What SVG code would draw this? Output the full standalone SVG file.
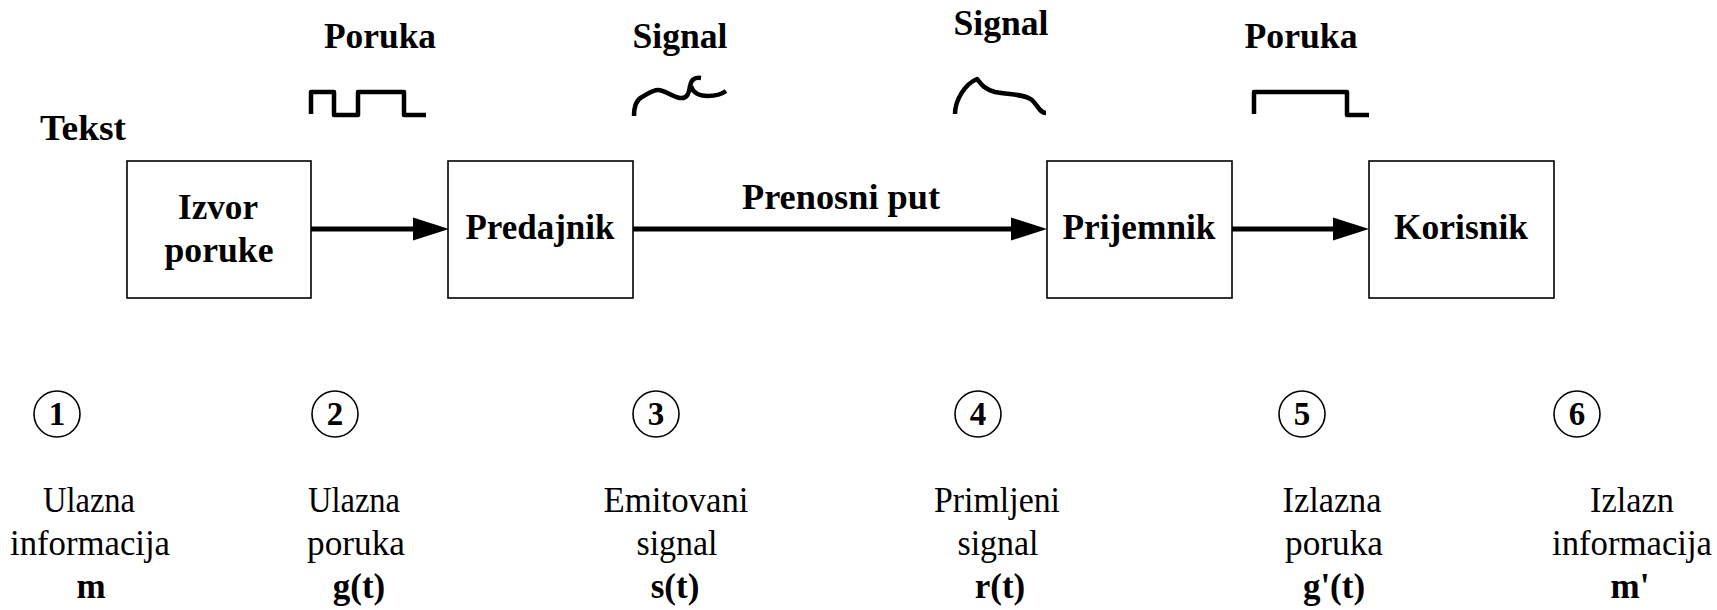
<svg xmlns="http://www.w3.org/2000/svg" width="1717" height="610" viewBox="0 0 1717 610" font-family="Liberation Serif, Times New Roman, serif">
  <style>
    .bg { fill: #ffffff; }
    .box { fill: #ffffff; stroke: #000000; stroke-width: 1.6; }
    text { fill: #000000; text-anchor: middle; }
    .lbl { font-weight: bold; font-size: 35px; }
    .cap { font-weight: normal; font-size: 35px; }
    .num { font-weight: bold; font-size: 33px; }
    .ring { fill: none; stroke: #000000; stroke-width: 1.6; }
    .wave { fill: none; stroke: #000000; stroke-width: 4.5; stroke-linejoin: round; }
    .conn { stroke: #000000; stroke-width: 5; fill: none; }
  </style>
  <defs>
    <marker id="head" markerUnits="userSpaceOnUse" markerWidth="36" markerHeight="24" refX="6" refY="12" orient="auto">
      <path d="M0,0.5 L36,12 L0,23.5 Z" fill="#000000"/>
    </marker>
  </defs>

  <rect class="bg" x="0" y="0" width="1717" height="610"/>

  <!-- section headings above the chain -->
  <g id="headings">
    <text class="lbl" x="380" y="48" textLength="112" lengthAdjust="spacingAndGlyphs">Poruka</text>
    <text class="lbl" x="680" y="48" textLength="95" lengthAdjust="spacingAndGlyphs">Signal</text>
    <text class="lbl" x="1001" y="35" textLength="95" lengthAdjust="spacingAndGlyphs">Signal</text>
    <text class="lbl" x="1301" y="48" textLength="113" lengthAdjust="spacingAndGlyphs">Poruka</text>
    <text class="lbl" x="83" y="140" font-size="36" textLength="86" lengthAdjust="spacingAndGlyphs">Tekst</text>
  </g>

  <!-- waveform sketches -->
  <g id="waveforms">
    <path class="wave" d="M311,114 V92 H334 V115 H358 V92 H404 V115 H426"/>
    <path class="wave" d="M634,116 C634,108 636,100 642,97 C648,94 652,90 658,90 C665,90 672,97 680,98 C688,99 689,92 690,86 C691,80 694,77 701,78 M691,86 C693,93 700,96 708,96 C716,96 722,94 726,91"/>
    <path class="wave" d="M955,114 C955,100 965,84 977,79 C981,84 984,89 995,92 C1010,95 1025,94 1032,100 C1038,106 1040,113 1046,113"/>
    <path class="wave" d="M1254,114 V92 H1347 V115 H1369"/>
  </g>

  <!-- connectors -->
  <g id="connectors">
    <line class="conn" x1="311" y1="229" x2="419" y2="229" marker-end="url(#head)"/>
    <line class="conn" x1="633" y1="229" x2="1017" y2="229" marker-end="url(#head)"/>
    <line class="conn" x1="1232" y1="229" x2="1339" y2="229" marker-end="url(#head)"/>
    <text class="lbl" x="841" y="209" textLength="198" lengthAdjust="spacingAndGlyphs">Prenosni put</text>
  </g>

  <!-- blocks -->
  <g id="izvor">
    <rect class="box" x="127" y="161" width="184" height="137"/>
    <text class="lbl" x="218" y="219" textLength="80" lengthAdjust="spacingAndGlyphs">Izvor</text>
    <text class="lbl" x="219" y="262" textLength="109" lengthAdjust="spacingAndGlyphs">poruke</text>
  </g>
  <g id="predajnik">
    <rect class="box" x="448" y="161" width="185" height="137"/>
    <text class="lbl" x="540" y="239" textLength="149" lengthAdjust="spacingAndGlyphs">Predajnik</text>
  </g>
  <g id="prijemnik">
    <rect class="box" x="1047" y="161" width="185" height="137"/>
    <text class="lbl" x="1139" y="239" textLength="153" lengthAdjust="spacingAndGlyphs">Prijemnik</text>
  </g>
  <g id="korisnik">
    <rect class="box" x="1369" y="161" width="185" height="137"/>
    <text class="lbl" x="1461" y="239" textLength="134" lengthAdjust="spacingAndGlyphs">Korisnik</text>
  </g>

  <!-- numbered observation points -->
  <g id="point-1">
    <circle class="ring" cx="57" cy="414" r="23"/>
    <text class="num" x="57" y="425">1</text>
    <text class="cap" x="89" y="512" textLength="92" lengthAdjust="spacingAndGlyphs">Ulazna</text>
    <text class="cap" x="90" y="555" textLength="160" lengthAdjust="spacingAndGlyphs">informacija</text>
    <text class="lbl" x="91" y="598">m</text>
  </g>
  <g id="point-2">
    <circle class="ring" cx="335" cy="414" r="23"/>
    <text class="num" x="335" y="425">2</text>
    <text class="cap" x="354" y="512" textLength="92" lengthAdjust="spacingAndGlyphs">Ulazna</text>
    <text class="cap" x="356" y="555" textLength="98" lengthAdjust="spacingAndGlyphs">poruka</text>
    <text class="lbl" x="359" y="598">g(t)</text>
  </g>
  <g id="point-3">
    <circle class="ring" cx="656" cy="414" r="23"/>
    <text class="num" x="656" y="425">3</text>
    <text class="cap" x="676" y="512" textLength="145" lengthAdjust="spacingAndGlyphs">Emitovani</text>
    <text class="cap" x="677" y="555" textLength="81" lengthAdjust="spacingAndGlyphs">signal</text>
    <text class="lbl" x="675" y="598">s(t)</text>
  </g>
  <g id="point-4">
    <circle class="ring" cx="978" cy="414" r="23"/>
    <text class="num" x="978" y="425">4</text>
    <text class="cap" x="997" y="512" textLength="126" lengthAdjust="spacingAndGlyphs">Primljeni</text>
    <text class="cap" x="998" y="555" textLength="81" lengthAdjust="spacingAndGlyphs">signal</text>
    <text class="lbl" x="1000" y="598">r(t)</text>
  </g>
  <g id="point-5">
    <circle class="ring" cx="1302" cy="414" r="23"/>
    <text class="num" x="1302" y="425">5</text>
    <text class="cap" x="1332" y="512" textLength="99" lengthAdjust="spacingAndGlyphs">Izlazna</text>
    <text class="cap" x="1334" y="555" textLength="98" lengthAdjust="spacingAndGlyphs">poruka</text>
    <text class="lbl" x="1334" y="598">g'(t)</text>
  </g>
  <g id="point-6">
    <circle class="ring" cx="1577" cy="414" r="23"/>
    <text class="num" x="1577" y="425">6</text>
    <text class="cap" x="1632" y="512" textLength="84" lengthAdjust="spacingAndGlyphs">Izlazn</text>
    <text class="cap" x="1632" y="555" textLength="160" lengthAdjust="spacingAndGlyphs">informacija</text>
    <text class="lbl" x="1630" y="598">m'</text>
  </g>
</svg>
